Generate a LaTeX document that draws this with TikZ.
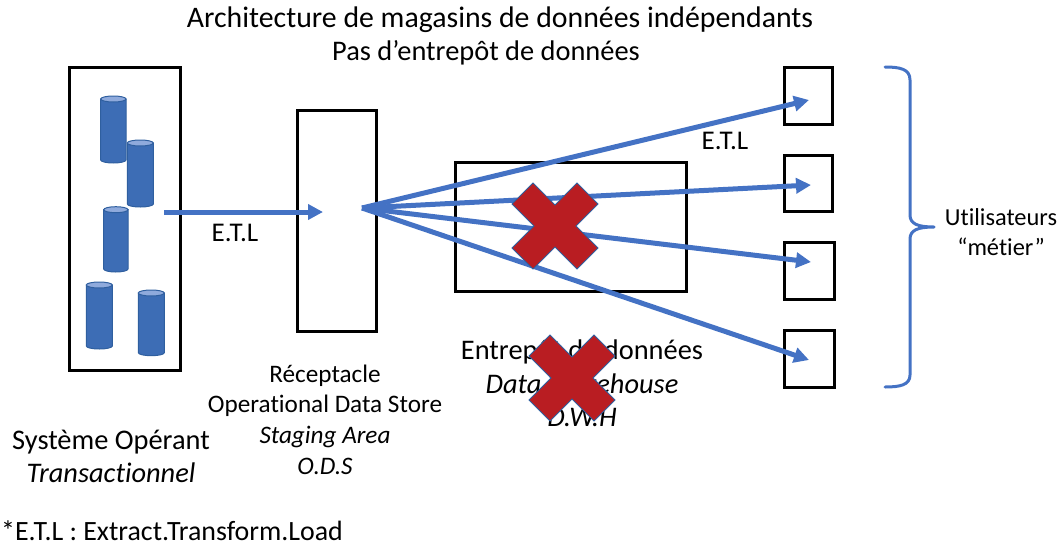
\documentclass[tikz,border=0pt]{standalone}
\usepackage{fontspec}
\setmainfont[Ligatures=CommonOff]{Carlito}
\usetikzlibrary{arrows.meta}
\definecolor{flow}{HTML}{4472C4}
\definecolor{cyl}{HTML}{3D6DB5}
\definecolor{cyltop}{HTML}{8FAADC}
\definecolor{cyledge}{HTML}{2F5F9F}
\definecolor{crossred}{HTML}{B91D22}
\tikzset{
  box/.style={draw=black,line width=3pt,fill=none,inner sep=0pt},
  flowline/.style={draw=flow,line width=5pt,-{Triangle[length=15pt,width=15pt]}},
  brace/.style={draw=flow,line width=3pt,line cap=round,line join=round},
  label/.style={font=\fontsize{28.4}{33}\selectfont,align=center,inner sep=0pt},
  small/.style={font=\fontsize{25.2}{30.6}\selectfont,align=center,inner sep=0pt},
  crossmark/.style={fill=crossred,draw=cyledge,line width=1pt,line join=miter},
}
\newcommand{\cylshape}[4]{% x1 x2 ytop ybottom
  \pgfmathsetmacro{\cxm}{(#1+#2)/2}
  \pgfmathsetmacro{\crx}{(#2-#1)/2}
  \path[fill=cyl,draw=cyledge,line width=1pt] (#1,#3+3) -- (#1,#4-3) arc[start angle=180,end angle=360,x radius=\crx,y radius=-3] -- (#2,#3+3) -- cycle;
  \path[fill=cyltop,draw=cyledge,line width=1pt] (\cxm,#3+3) ellipse[x radius=\crx,y radius=3];
}
\newcommand{\crossat}[2]{%
  \path[crossmark,shift={(#1,#2)}] (-22,-43)--(0,-21)--(22,-43)--(43,-22)--(21,0)--(43,22)--(22,43)--(0,21)--(-22,43)--(-43,22)--(-21,0)--(-43,-22)--cycle;
}
\begin{document}
\begin{tikzpicture}[x=1pt,y=-1pt]
\useasboundingbox (0,0) rectangle (1064,546);
% text
\node[label,font=\fontsize{29.8}{33}\selectfont] (title) at (500,20) {Architecture de magasins de données indépendants};
\node[label] (title2) at (486,53) {Pas d’entrepôt de données};
\node[box,minimum width=111pt,minimum height=303pt] (sys) at (125,218.7) {};
\node[box,minimum width=79pt,minimum height=221pt] (ods) at (336.5,220.5) {};
\node[box,minimum width=231pt,minimum height=129pt] (dwh) at (571,227) {};
\node[box,minimum width=48pt,minimum height=57pt] (u1) at (808.7,95.7) {};
\node[box,minimum width=48pt,minimum height=56pt] (u2) at (808.7,183.3) {};
\node[box,minimum width=50pt,minimum height=57pt] (u3) at (809.7,270.7) {};
\node[box,minimum width=50pt,minimum height=57pt] (u4) at (809.7,359.2) {};
\cylshape{100.7}{126}{96}{163}
\cylshape{127.3}{153.3}{140}{207}
\cylshape{103.7}{128}{206.7}{272}
\cylshape{86.3}{112.3}{282}{349}
\cylshape{138.3}{164.3}{290}{355.7}
\node[label] (lsys) at (111,456) {Système Opérant\\\textit{Transactionnel}};
\node[small] (lods) at (325,419.5) {Réceptacle\\Operational Data Store\\\textit{Staging Area}\\\textit{O.D.S}};
\node[label,font=\fontsize{28.4}{33.5}\selectfont] (ldwh) at (582,383.5) {Entrepôt de données\\\textit{Data Warehouse}\\\textit{D.W.H}};
\node[small,font=\fontsize{27}{31}\selectfont] (etl1) at (235,233) {E.T.L};
\node[small,font=\fontsize{27}{31}\selectfont] (etl2) at (725,141) {E.T.L};
\node[small,font=\fontsize{24.4}{30}\selectfont] (lusers) at (1001,232) {Utilisateurs\\“métier”};
\node[label,font=\fontsize{27.9}{33}\selectfont,anchor=west] (foot) at (1,531) {*E.T.L : Extract.Transform.Load};
% connectors
\coordinate (srcA) at (164,212);
\coordinate (hubIn) at (323,212);
\coordinate (hub) at (362,208);
\coordinate (t1) at (809,100);
\coordinate (t2) at (811,185);
\coordinate (t3) at (811,262);
\coordinate (t4) at (809,360);
\draw[flowline] (srcA) -- (hubIn);
\draw[flowline] (hub) -- (t1);
\draw[flowline] (hub) -- (t2);
\draw[flowline] (hub) -- (t3);
\draw[flowline] (hub) -- (t4);
\draw[brace] (885,67) .. controls (900,67) and (910,69) .. (910,80) -- (910,215) .. controls (910,224) and (918,227) .. (934,227) .. controls (918,227) and (910,230) .. (910,239) -- (910,375) .. controls (910,385) and (900,387) .. (885,387);
\crossat{555}{226}
\crossat{572}{378}
\end{tikzpicture}
\end{document}
